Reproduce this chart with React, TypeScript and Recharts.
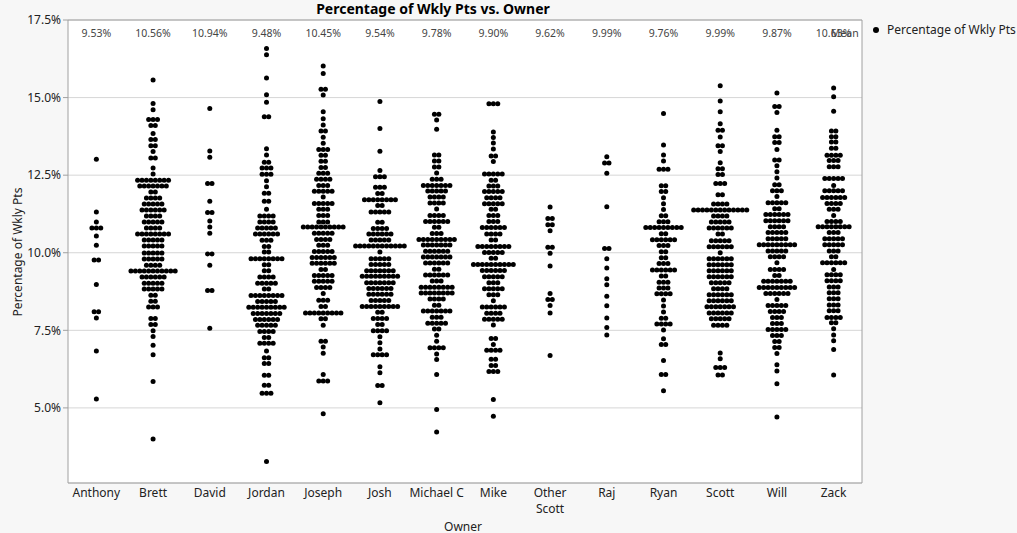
import { ScatterChart, Scatter, XAxis, YAxis, CartesianGrid } from "recharts";

const FONT = "'Noto Sans', 'DejaVu Sans', sans-serif";

const owners = [
  "Anthony", "Brett", "David", "Jordan", "Joseph", "Josh", "Michael C",
  "Mike", "Other Scott", "Raj", "Ryan", "Scott", "Will", "Zack",
];
const meanLabels = [
  "9.53%", "10.56%", "10.94%", "9.48%", "10.45%", "9.54%", "9.78%",
  "9.90%", "9.62%", "9.99%", "9.76%", "9.99%", "9.87%", "10.63%",
];
const yTicks = [5, 7.5, 10, 12.5, 15, 17.5];

// [percentage, number of points packed side by side at that level]
const anthony = [[13.01,1],[11.31,1],[10.99,1],[10.8,3],[10.54,1],[10.24,1],[9.77,2],[8.98,1],[8.1,2],[7.9,1],[6.83,1],[5.29,1]];
const brett = [[15.57,1],[14.81,1],[14.61,1],[14.29,3],[14.1,2],[13.84,1],[13.65,2],[13.45,2],[13.26,1],[13.05,2],[12.73,1],[12.54,1],[12.34,8],[12.15,7],[11.96,2],[11.76,4],[11.57,5],[11.38,6],[11.18,4],[10.99,5],[10.8,4],[10.6,8],[10.41,5],[10.22,5],[9.99,5],[9.8,5],[9.6,4],[9.41,11],[9.22,6],[9.02,5],[8.83,5],[8.63,2],[8.44,2],[8.25,3],[7.88,2],[7.69,2],[7.49,1],[7.3,1],[7.02,1],[6.71,1],[5.85,1],[4.0,1]];
const david = [[14.65,1],[13.28,1],[13.08,1],[12.23,2],[11.66,1],[11.3,2],[11.02,1],[10.83,1],[10.63,1],[9.96,2],[9.6,1],[8.78,2],[7.57,1]];
const jordan = [[16.58,1],[16.38,1],[15.63,1],[15.09,1],[14.85,1],[14.38,2],[13.35,1],[13.15,1],[12.92,2],[12.73,3],[12.53,3],[12.32,1],[12.13,1],[11.92,2],[11.66,2],[11.4,1],[11.18,4],[10.99,4],[10.8,5],[10.6,6],[10.4,3],[10.2,2],[10.02,2],[9.81,8],[9.61,2],[9.42,2],[9.22,4],[9.02,5],[8.83,2],[8.62,8],[8.43,5],[8.24,9],[8.04,7],[7.85,6],[7.66,5],[7.46,4],[7.27,2],[7.08,4],[6.83,1],[6.62,2],[6.43,2],[6.05,2],[5.73,2],[5.47,3],[3.27,1]];
const joseph = [[16.02,1],[15.78,1],[15.27,2],[15.08,1],[14.54,1],[14.32,1],[14.12,1],[13.92,2],[13.72,1],[13.53,1],[13.33,3],[13.14,2],[12.95,2],[12.75,2],[12.56,3],[12.37,4],[12.17,3],[11.98,5],[11.8,1],[11.59,5],[11.4,3],[11.2,3],[10.99,3],[10.83,10],[10.63,5],[10.43,4],[10.24,3],[10.04,5],[9.85,6],[9.66,6],[9.46,2],[9.27,5],[9.08,5],[8.88,4],[8.69,1],[8.47,3],[8.27,2],[8.06,9],[7.87,2],[7.66,1],[7.15,2],[6.96,1],[6.76,1],[6.08,1],[5.87,3],[4.81,1]];
const josh = [[14.87,1],[14.0,1],[13.27,1],[12.65,1],[12.45,3],[12.11,3],[11.91,2],[11.71,8],[11.52,2],[11.31,5],[10.98,2],[10.78,4],[10.6,6],[10.41,5],[10.22,12],[10.02,1],[9.81,5],[9.62,5],[9.42,7],[9.24,9],[9.03,7],[8.85,6],[8.66,6],[8.46,5],[8.27,9],[8.08,2],[7.88,4],[7.69,2],[7.49,4],[7.29,1],[7.1,1],[6.9,1],[6.71,4],[6.33,1],[6.13,1],[5.72,2],[5.17,1]];
const michaelC = [[14.46,2],[14.28,1],[13.98,1],[13.15,2],[12.96,2],[12.76,2],[12.57,1],[12.37,3],[12.17,7],[11.99,5],[11.8,4],[11.6,4],[11.41,1],[11.2,4],[11.01,6],[10.82,2],[10.62,3],[10.43,9],[10.25,7],[10.05,6],[9.86,7],[9.67,6],[9.47,2],[9.28,6],[9.09,3],[8.89,8],[8.7,8],[8.51,4],[8.31,2],[8.12,7],[7.92,3],[7.73,5],[7.54,2],[7.34,1],[7.15,1],[6.94,4],[6.74,1],[6.56,1],[6.08,1],[4.95,1],[4.22,1]];
const mike = [[14.8,3],[13.89,1],[13.71,1],[13.54,1],[13.34,1],[13.12,2],[12.94,1],[12.54,5],[12.34,2],[12.15,3],[11.97,5],[11.77,4],[11.58,5],[11.4,2],[11.2,3],[11.01,3],[10.81,6],[10.6,4],[10.41,2],[10.2,8],[10.01,5],[9.82,2],[9.62,10],[9.43,6],[9.23,5],[9.03,3],[8.84,5],[8.65,3],[8.45,1],[8.25,6],[8.05,4],[7.86,5],[7.67,1],[7.24,2],[7.04,1],[6.86,4],[6.57,2],[6.37,2],[6.17,3],[5.27,1],[4.73,1]];
const otherScott = [[11.47,1],[11.1,2],[10.9,2],[10.71,1],[10.18,2],[9.98,1],[9.57,1],[8.69,1],[8.49,2],[8.3,1],[8.06,1],[6.69,1]];
const raj = [[13.09,1],[12.89,2],[12.56,1],[11.48,1],[10.14,2],[9.81,1],[9.51,1],[9.16,1],[8.97,1],[8.6,1],[8.29,1],[7.9,1],[7.59,1],[7.35,1]];
const ryan = [[14.49,1],[13.47,1],[13.15,1],[12.96,1],[12.69,3],[12.16,2],[11.97,2],[11.77,1],[11.58,1],[11.39,1],[11.19,2],[11.0,3],[10.81,9],[10.61,2],[10.42,6],[10.23,3],[10.03,2],[9.84,2],[9.65,3],[9.44,6],[9.25,2],[9.05,3],[8.86,3],[8.68,4],[8.48,1],[8.28,1],[8.09,1],[7.89,2],[7.7,4],[7.51,1],[7.23,1],[7.04,2],[6.53,1],[6.08,2],[5.55,1]];
const scott = [[15.38,1],[14.89,1],[14.54,1],[14.16,1],[13.95,2],[13.73,1],[13.45,2],[13.26,1],[12.9,1],[12.71,2],[12.52,2],[12.23,3],[11.87,2],[11.57,4],[11.38,13],[11.18,4],[10.99,5],[10.8,6],[10.6,2],[10.39,5],[10.19,6],[10.0,1],[9.81,6],[9.61,6],[9.42,6],[9.23,6],[9.03,5],[8.84,4],[8.65,6],[8.45,6],[8.26,7],[8.06,6],[7.87,5],[7.66,4],[6.77,1],[6.58,1],[6.3,3],[6.06,2]];
const will = [[15.15,1],[14.71,2],[14.52,1],[13.95,1],[13.74,2],[13.55,2],[13.33,1],[12.99,2],[12.8,1],[12.61,1],[12.41,1],[12.19,2],[12.0,3],[11.81,1],[11.61,5],[11.42,2],[11.23,6],[11.03,6],[10.84,4],[10.65,5],[10.45,5],[10.26,9],[10.06,5],[9.87,4],[9.68,1],[9.46,4],[9.27,2],[9.08,7],[8.88,9],[8.69,6],[8.49,1],[8.3,5],[8.11,4],[7.91,3],[7.72,3],[7.53,5],[7.33,3],[7.14,2],[6.95,2],[6.75,1],[6.39,1],[6.19,1],[5.78,1],[4.71,1]];
const zack = [[15.31,1],[15.03,1],[14.56,1],[13.92,2],[13.74,2],[13.57,2],[13.37,2],[13.14,4],[12.97,3],[12.77,3],[12.39,5],[12.17,1],[12.0,5],[11.78,6],[11.59,4],[11.4,3],[11.2,1],[11.01,4],[10.84,8],[10.65,3],[10.45,5],[10.26,5],[10.06,3],[9.87,2],[9.68,6],[9.46,1],[9.29,4],[9.1,4],[8.9,3],[8.71,3],[8.52,3],[8.32,3],[8.13,3],[7.91,4],[7.74,2],[7.55,1],[7.35,1],[7.16,1],[6.88,1],[6.06,1]];

const rowsByOwner = [anthony, brett, david, jordan, joseph, josh, michaelC, mike, otherScott, raj, ryan, scott, will, zack];

// horizontal step between packed dots, in category units
const DOT_STEP = 0.078;

const points = rowsByOwner.flatMap((rows, i) =>
  rows.flatMap(([v, n]) =>
    Array.from({ length: n }, (_, j) => ({ x: i + (j - (n - 1) / 2) * DOT_STEP, y: v }))
  )
);

const ownerTicks = owners.map((_, i) => i);

const PLOT_TOP = 20;

// owner name under the axis, plus the mean figure at the top of the plot
function OwnerTick({ x, y, payload }: any) {
  const i = payload.value;
  const name = owners[i] ?? "";
  const lines = name.length > 10 ? name.split(" ") : [name];
  return (
    <g>
      <text x={x} y={y} textAnchor="middle" fill="#222" fontSize={12} fontFamily={FONT}>
        {lines.map((l, k) => (
          <tspan key={k} x={x} dy={k === 0 ? 14 : 16}>{l}</tspan>
        ))}
      </text>
      <text x={x} y={PLOT_TOP + 17} textAnchor="middle" fill="#444" fontSize={10.5} fontFamily={FONT}>
        {meanLabels[i]}
      </text>
      {i === owners.length - 1 && (
        <text x={x + 25} y={PLOT_TOP + 17} textAnchor="end" fill="#444" fontSize={10.5} fontFamily={FONT}>
          Mean
        </text>
      )}
    </g>
  );
}

const Dot = (p: any) => <circle cx={p.cx} cy={p.cy} r={2.5} fill="#000" />;

export default function App() {
  return (
    <div style={{ position: "absolute", left: 0, top: 0, width: 1017, height: 533, background: "#f7f7f7", fontFamily: FONT }}>
      <div style={{ position: "absolute", left: 68, top: 20, width: 794, height: 463, background: "#fff" }} />
      <div style={{ position: "absolute", left: 0, top: 0, width: 866, textAlign: "center", fontWeight: "bold", fontSize: 14, lineHeight: "18px", color: "#000" }}>
        Percentage of Wkly Pts vs. Owner
      </div>
      <div style={{ position: "absolute", left: 17, top: 252, transform: "translate(-50%, -50%) rotate(-90deg)", whiteSpace: "nowrap", fontSize: 12, color: "#222" }}>
        Percentage of Wkly Pts
      </div>
      <div style={{ position: "absolute", left: 463, top: 526, transform: "translate(-50%, -50%)", fontSize: 12, color: "#222" }}>
        Owner
      </div>
      <div style={{ position: "absolute", left: 873, top: 21, display: "flex", alignItems: "center", fontSize: 12, color: "#222" }}>
        <span style={{ display: "inline-block", width: 6, height: 6, borderRadius: 3, background: "#000", marginRight: 8 }} />
        Percentage of Wkly Pts
      </div>
      <ScatterChart width={1017} height={533} margin={{ top: PLOT_TOP - 1, right: 154, bottom: 0, left: 0 }} style={{ position: "absolute", left: 0, top: 0 }}>
        <CartesianGrid vertical={false} stroke="#d6d6d6" />
        <XAxis
          type="number"
          dataKey="x"
          domain={[-0.5, 13.5]}
          ticks={ownerTicks}
          interval={0}
          height={50}
          tickSize={0}
          tickMargin={0}
          tickLine={false}
          axisLine={{ stroke: "#a0a0a0" }}
          tick={OwnerTick}
        />
        <XAxis
          xAxisId="top"
          orientation="top"
          type="number"
          domain={[-0.5, 13.5]}
          height={1}
          tick={false}
          tickLine={false}
          axisLine={{ stroke: "#a0a0a0" }}
        />
        <YAxis
          type="number"
          dataKey="y"
          domain={[2.58, 17.5]}
          ticks={yTicks}
          allowDataOverflow
          width={68}
          tickSize={5}
          tickLine={{ stroke: "#a0a0a0" }}
          axisLine={{ stroke: "#a0a0a0" }}
          tick={{ fill: "#222", fontSize: 12, fontFamily: FONT }}
          tickFormatter={(v: number) => v.toFixed(1) + "%"}
        />
        <YAxis
          yAxisId="right"
          orientation="right"
          type="number"
          domain={[2.58, 17.5]}
          width={1}
          tick={false}
          tickLine={false}
          axisLine={{ stroke: "#a0a0a0" }}
        />
        <Scatter data={points} fill="#000" shape={Dot} isAnimationActive={false} />
      </ScatterChart>
    </div>
  );
}
